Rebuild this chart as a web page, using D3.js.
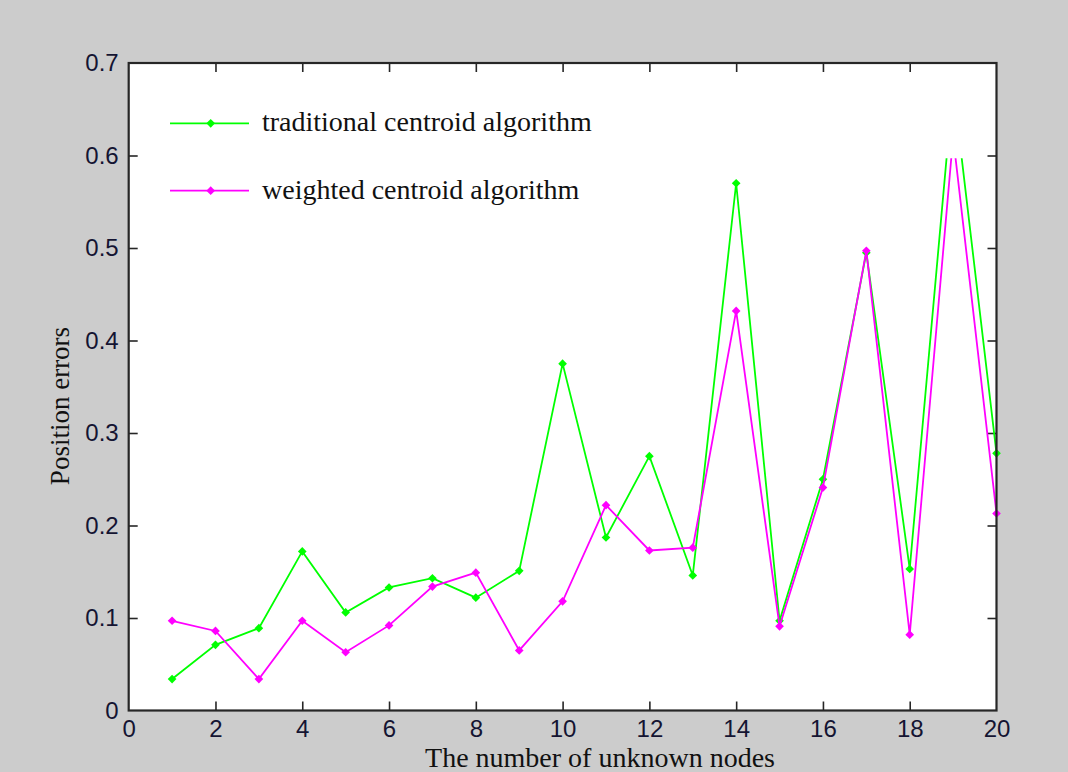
<!DOCTYPE html>
<html>
<head>
<meta charset="utf-8">
<script src="https://cdn.jsdelivr.net/npm/d3@7"></script>
<style>
  html, body { margin: 0; padding: 0; background: #cccccc; }
  svg { display: block; }
</style>
</head>
<body>
<svg id="chart" width="1068" height="772"></svg>
<script>
// ---- data ----
const nodes = [1,2,3,4,5,6,7,8,9,10,11,12,13,14,15,16,17,18,19,20];
const traditional = [0.034,0.071,0.089,0.172,0.106,0.133,0.143,0.122,0.151,0.375,
                     0.187,0.275,0.146,0.570,0.097,0.250,0.495,0.153,0.676,0.278];
const weighted    = [0.097,0.086,0.034,0.097,0.063,0.092,0.134,0.149,0.065,0.118,
                     0.222,0.173,0.176,0.432,0.091,0.241,0.497,0.082,0.620,0.213];
const xTicks = [0,2,4,6,8,10,12,14,16,18,20];
const yTicks = [0,0.1,0.2,0.3,0.4,0.5,0.6,0.7];
const seriesNames = ["traditional centroid algorithm", "weighted centroid algorithm"];
const seriesColors = ["#00ff00", "#ff00ff"];
const visibleTop = 0.597; // lines are cut off at this height in the reference

// ---- layout ----
const svg = d3.select("#chart");
const L = 128.7, R = 996.5, T = 63, B = 710.5;
const x = d3.scaleLinear().domain([0, 20]).range([L, R]);
const y = d3.scaleLinear().domain([0, 0.7]).range([B, T]);

// axes box
svg.append("rect").attr("x", L).attr("y", T).attr("width", R - L).attr("height", B - T)
  .attr("fill", "#ffffff");

const tickLen = 9;
const axisColor = "#262626";
const tickFont = "'Liberation Sans', Arial, sans-serif";

function styleAxis(g) {
  g.select(".domain").remove();
  g.selectAll(".tick line").attr("stroke", axisColor).attr("stroke-width", 1.6);
  g.selectAll(".tick text").attr("fill", "#141432")
    .style("font-family", tickFont).style("font-size", "24px");
}

// bottom
svg.append("g").attr("transform", `translate(0,${B})`)
  .call(d3.axisBottom(x).tickValues(xTicks).tickFormat(d3.format("d"))
        .tickSizeInner(-tickLen).tickSizeOuter(0).tickPadding(9))
  .call(styleAxis);
// top
svg.append("g").attr("transform", `translate(0,${T})`)
  .call(d3.axisTop(x).tickValues(xTicks).tickFormat("")
        .tickSizeInner(-tickLen).tickSizeOuter(0))
  .call(styleAxis);
// left
svg.append("g").attr("transform", `translate(${L},0)`)
  .call(d3.axisLeft(y).tickValues(yTicks).tickFormat(d => d === 0 ? "0" : d3.format(".1f")(d))
        .tickSizeInner(-tickLen).tickSizeOuter(0).tickPadding(10))
  .call(styleAxis);
// right
svg.append("g").attr("transform", `translate(${R},0)`)
  .call(d3.axisRight(y).tickValues(yTicks).tickFormat("")
        .tickSizeInner(-tickLen).tickSizeOuter(0))
  .call(styleAxis);

// hide ticks at the corners (box ends)
svg.selectAll(".tick").filter(d => d === 0 || d === 20 || d === 0.7)
  .select("line").attr("opacity", 0);

// clip (lines cut at the top; markers at the right edge stay visible)
svg.append("clipPath").attr("id", "clip")
  .append("rect").attr("x", L - 10).attr("y", y(visibleTop))
  .attr("width", R - L + 20).attr("height", B - y(visibleTop) + 10);

const line = d3.line().x((d, i) => x(nodes[i])).y(d => y(d));
const diamond = d3.symbol().type(d3.symbolDiamond2).size(48);

[traditional, weighted].forEach((vals, si) => {
  const g = svg.append("g").attr("clip-path", "url(#clip)");
  g.append("path").datum(vals).attr("d", line)
    .attr("fill", "none").attr("stroke", seriesColors[si]).attr("stroke-width", 1.8);
  g.selectAll("path.m").data(vals).enter().append("path").attr("class", "m")
    .attr("d", diamond)
    .attr("transform", (d, i) => `translate(${x(nodes[i])},${y(d)})`)
    .attr("fill", seriesColors[si]);
});

// box border
svg.append("rect").attr("x", L).attr("y", T).attr("width", R - L).attr("height", B - T)
  .attr("fill", "none").attr("stroke", axisColor).attr("stroke-width", 2.2);

// legend
const serif = "'Liberation Serif', 'Times New Roman', serif";
const legY = [123.3, 190.7];
seriesNames.forEach((name, i) => {
  const g = svg.append("g");
  g.append("line").attr("x1", 170).attr("x2", 249).attr("y1", legY[i]).attr("y2", legY[i])
    .attr("stroke", seriesColors[i]).attr("stroke-width", 1.8);
  g.append("path").attr("d", diamond)
    .attr("transform", `translate(210.7,${legY[i]})`).attr("fill", seriesColors[i]);
  g.append("text").attr("x", 262).attr("y", legY[i] + 8)
    .style("font-family", serif).style("font-size", "28px").attr("fill", "#111")
    .text(name);
});

// axis labels
svg.append("text").attr("x", 600).attr("y", 767).attr("text-anchor", "middle")
  .style("font-family", serif).style("font-size", "28px").attr("fill", "#111")
  .text("The number of unknown nodes");
svg.append("text").attr("transform", "translate(69,406) rotate(-90)")
  .attr("text-anchor", "middle")
  .style("font-family", serif).style("font-size", "27px").attr("fill", "#111")
  .text("Position errors");
</script>
</body>
</html>
